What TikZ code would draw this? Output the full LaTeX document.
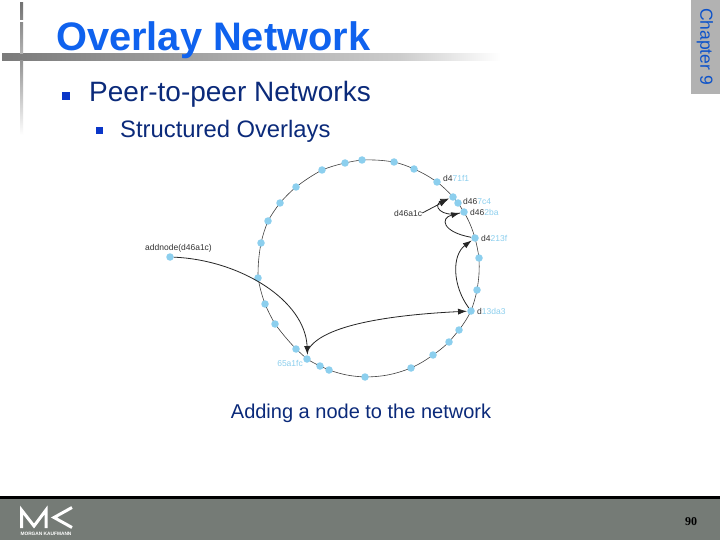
\documentclass[tikz,border=0pt]{standalone}
\usepackage{fontspec}
\setmainfont{Liberation Sans}
\newfontfamily\serifnum{Liberation Serif}
\usetikzlibrary{arrows.meta,backgrounds}
\definecolor{ringblue}{HTML}{8CCFEE}
\definecolor{labblue}{HTML}{8CCFEE}
\definecolor{titleblue}{HTML}{0F62EE}
\definecolor{bodyblue}{HTML}{0B2A7A}
\definecolor{bulblue}{HTML}{0A36C8}
\definecolor{footgray}{HTML}{757B76}
\definecolor{tabgray}{HTML}{B2B2B2}
\definecolor{labgray}{HTML}{333333}
\tikzset{
  x=1pt,y=-1pt,
  dot/.style={circle,fill=ringblue,inner sep=0pt,minimum size=7.5pt},
  ring/.style={draw=black!75,line width=0.6pt},
  hop/.style={draw=black!85,line width=0.8pt,-{Latex[length=9pt,width=6pt]}},
  lab/.style={font=\fontsize{8.5}{10}\selectfont,text=labgray,inner sep=0pt,anchor=west},
  logo/.style={draw=white,line width=3pt,line join=miter}
}
\begin{document}
\begin{tikzpicture}
\useasboundingbox (0,0) rectangle (720,540);
% decorative bars
\shade[left color=black!52,right color=black!20] (2,54) rectangle (400,61);
\shade[left color=black!20,right color=white] (400,54) rectangle (500,61);
\shade[top color=black!55,bottom color=black!30] (20,3) rectangle (23,54);
\shade[top color=black!42,bottom color=white] (20,61) rectangle (23,135);
\fill[white] (19,20.5) rectangle (24,22);
% chapter tab
\fill[tabgray] (691,0) rectangle (720,94);
\node[rotate=-90,text=titleblue!85!black,font=\fontsize{17.5}{20}\selectfont,inner sep=0pt] (chap) at (705,46.5) {Chapter 9};
% footer
\fill[footgray] (0,497) rectangle (720,540);
\fill[black] (0,496) rectangle (720,498.5);
\draw[logo] (21.5,528) -- (21.5,510) -- (34,526) -- (46,510) -- (46,528);
\draw[logo] (72,507.5) -- (54,517.5) -- (72,527.5);
\node[text=white,font=\bfseries\fontsize{4.8}{5}\selectfont,inner sep=0pt] (mk) at (46,533.5) {MORGAN KAUFMANN};
\node[font=\serifnum\bfseries\fontsize{12}{14}\selectfont,text=black,inner sep=0pt] (pg) at (691,522) {90};
% text
\node[anchor=base west,inner sep=0pt,text=titleblue,font=\bfseries\fontsize{39.8}{44}\selectfont] (title) at (56,51) {Overlay Network};
\node[fill=bulblue,inner sep=0pt,minimum size=8pt] (b1) at (66,96.5) {};
\node[anchor=base west,inner sep=0pt,text=bodyblue,font=\fontsize{28}{32}\selectfont] (t1) at (89,102) {Peer-to-peer Networks};
\node[fill=bulblue,inner sep=0pt,minimum size=7pt] (b2) at (99,131) {};
\node[anchor=base west,inner sep=0pt,text=bodyblue,font=\fontsize{23.8}{28}\selectfont] (t2) at (120,138) {Structured Overlays};
\node[anchor=base,inner sep=0pt,text=bodyblue,font=\fontsize{20}{24}\selectfont] (cap) at (361,418) {Adding a node to the network};
% ring nodes
\foreach \n/\x/\y in {a/362/160,b/394/162,c/414/169,d/437/182,e/453/197,f/458/203,g/464/212,h/475/238,i/479/258,j/477/290,k/471/311,l/459/330,m/449/342,n/433/355,o/411/368,p/365/377,q/329/370,r/320/366,s/307/359,t/296/349,u/275/324,v/265/304,w/258/278,x/261/243,y/268/221,z/280/203,aa/296/187,ab/322/170,ac/345/163}
  \node[dot] (\n) at (\x,\y) {};
\node[dot] (add) at (170,257) {};
\coordinate (sin) at (307.5,355);
\coordinate (sout) at (308,350);
\coordinate (eend) at (448,199.5);
\begin{scope}[on background layer]
\fill[white] (0,0) rectangle (720,540);
\draw[ring] (a.center) to[bend left=5] (b.center) to[bend left=5] (c.center) to[bend left=5] (d.center) to[bend left=5] (e.center) to (f.center) to (g.center) to[bend left=6] (h.center) to[bend left=3] (i.center) to[bend left=6] (j.center) to[bend left=4] (k.center) to[bend left=5] (l.center) to (m.center) to[bend left=4] (n.center) to[bend left=5] (o.center) to[bend left=10] (p.center) to[bend left=8] (q.center) to (r.center) to[bend left=3] (s.center) to (t.center) to[bend left=3] (u.center) to[bend left=3] (v.center) to[bend left=4] (w.center) to[bend left=5] (x.center) to[bend left=4] (y.center) to[bend left=4] (z.center) to[bend left=4] (aa.center) to[bend left=4] (ab.center) to[bend left=4] (ac.center) to[bend left=3] (a.center);
\end{scope}
% labels
\node[lab] (l1) at (443,178) {d4\textcolor{labblue}{71f1}};
\node[lab] (l2) at (463,201) {d46\textcolor{labblue}{7c4}};
\node[lab] (l3) at (470,212) {d46\textcolor{labblue}{2ba}};
\node[lab] (l4) at (481,238) {d4\textcolor{labblue}{213f}};
\node[lab] (l5) at (477,311) {d\textcolor{labblue}{13da3}};
\node[lab,text=labblue,anchor=east] (l6) at (303,363) {65a1fc};
\node[lab] (l7) at (394,213) {d46a1c};
\node[lab,anchor=base west] (l8) at (145,250) {addnode(d46a1c)};
% hops
\draw[hop] (add) .. controls (240,260) and (305,300) .. (sin);
\draw[hop] (sout) .. controls (322,325) and (390,315) .. (k);
\draw[hop] (k) .. controls (452,285) and (452,255) .. (h);
\draw[hop] (h) .. controls (442,232) and (440,218) .. (g);
\draw[hop] (g) .. controls (441,218) and (432,205) .. (e);
\draw[hop] (l7.east) -- (eend);
\end{tikzpicture}
\end{document}
